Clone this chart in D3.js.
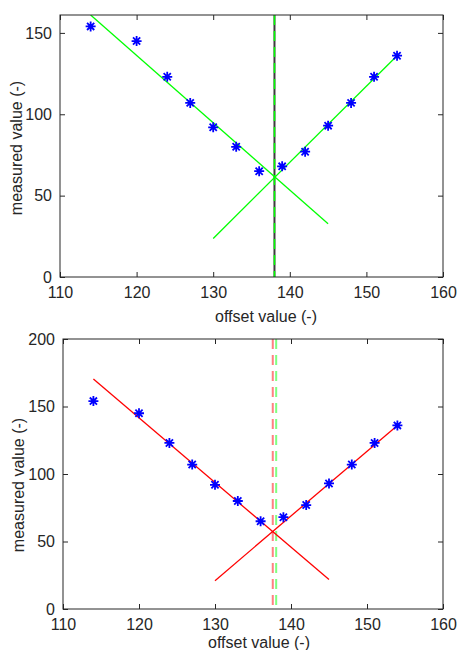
<!DOCTYPE html>
<html>
<head>
<meta charset="utf-8">
<script src="https://cdn.jsdelivr.net/npm/d3@7"></script>
<style>
  body { margin: 0; background: #fff; }
  svg text { font-family: "Liberation Sans", Arial, sans-serif; fill: #262626; }
</style>
</head>
<body>
<div id="chart"></div>
<script>
// measured points (same in both panels)
const offsets = [114, 120, 124, 127, 130, 133, 136, 139, 142, 145, 148, 151, 154];
const measured = [154, 145, 123, 107, 92, 80, 65, 68, 77, 93, 107, 123, 136];

const xTicks = [110, 120, 130, 140, 150, 160];

// top panel: green fit lines + vertical at 138
const topLeftFit = [[114, 161], [145, 32.7]];
const topRightFit = [[130, 23.7], [154, 136]];
const topCenter = 138;
const topYTicks = [0, 50, 100, 150];

// bottom panel: red fit lines, red estimate vs green reference
const botLeftFit = [[114, 170.4], [145, 21.8]];
const botRightFit = [[130, 21], [154, 136]];
const botCenterRed = 137.6;
const botCenterGreen = 138.05;
const botYTicks = [0, 50, 100, 150, 200];

const svg = d3.select('#chart').append('svg')
  .attr('width', 457)
  .attr('height', 650);

function panel(opts) {
  const x = d3.scaleLinear().domain([110, 160]).range([opts.left, opts.right]);
  const y = d3.scaleLinear().domain(opts.yDomain).range([opts.bottom, opts.top]);
  const g = svg.append('g');

  const clipId = 'clip' + opts.id;
  g.append('clipPath').attr('id', clipId)
    .append('rect')
    .attr('x', opts.left).attr('y', opts.top)
    .attr('width', opts.right - opts.left).attr('height', opts.bottom - opts.top);

  const plot = g.append('g').attr('clip-path', `url(#${clipId})`);
  const line = d3.line().x(d => x(d[0])).y(d => y(d[1]));

  // vertical markers
  opts.verticals.forEach(v => {
    plot.append('line')
      .attr('x1', x(v.x)).attr('x2', x(v.x))
      .attr('y1', opts.top).attr('y2', opts.bottom)
      .attr('stroke', v.color)
      .attr('stroke-width', v.width)
      .attr('stroke-dasharray', v.dash || null);
  });

  // fitted lines
  opts.fits.forEach(f => {
    plot.append('path')
      .attr('d', line(f))
      .attr('fill', 'none')
      .attr('stroke', opts.fitColor)
      .attr('stroke-width', 1.3);
  });

  // asterisk markers
  const r = 5, rd = r * 0.72;
  const star = `M${-r},0L${r},0M0,${-r}L0,${r}M${-rd},${-rd}L${rd},${rd}M${-rd},${rd}L${rd},${-rd}`;
  plot.selectAll('.pt')
    .data(offsets)
    .enter().append('path')
    .attr('class', 'pt')
    .attr('transform', (d, i) => `translate(${x(d)},${y(measured[i])})`)
    .attr('d', star)
    .attr('fill', 'none')
    .attr('stroke', '#0000ff')
    .attr('stroke-width', 1.8);

  // axes (MATLAB style box, inward ticks)
  const tickLen = 5;
  g.append('g')
    .attr('transform', `translate(0,${opts.bottom})`)
    .call(d3.axisBottom(x).tickValues(xTicks).tickSizeInner(-tickLen).tickSizeOuter(0).tickPadding(10))
    .call(a => a.select('.domain').remove());
  g.append('g')
    .attr('transform', `translate(0,${opts.top})`)
    .call(d3.axisTop(x).tickValues(xTicks).tickSizeInner(-tickLen).tickSizeOuter(0).tickFormat(''))
    .call(a => a.select('.domain').remove());
  g.append('g')
    .attr('transform', `translate(${opts.left},0)`)
    .call(d3.axisLeft(y).tickValues(opts.yTicks).tickSizeInner(-tickLen).tickSizeOuter(0).tickPadding(8))
    .call(a => a.select('.domain').remove());
  g.append('g')
    .attr('transform', `translate(${opts.right},0)`)
    .call(d3.axisRight(y).tickValues(opts.yTicks).tickSizeInner(-tickLen).tickSizeOuter(0).tickFormat(''))
    .call(a => a.select('.domain').remove());

  g.selectAll('.tick line').attr('stroke', '#262626');
  g.selectAll('.tick text').style('font-size', '16px').attr('fill', '#262626');

  g.append('rect')
    .attr('x', opts.left).attr('y', opts.top)
    .attr('width', opts.right - opts.left).attr('height', opts.bottom - opts.top)
    .attr('fill', 'none')
    .attr('stroke', '#262626')
    .attr('stroke-width', 1);

  g.append('text')
    .attr('x', opts.xLabelX).attr('y', opts.xLabelY)
    .attr('text-anchor', 'middle')
    .style('font-size', '16px')
    .text('offset value (-)');

  g.append('text')
    .attr('transform', `translate(${opts.yLabelX},${opts.yLabelY}) rotate(-90)`)
    .attr('text-anchor', 'middle')
    .style('font-size', '16px')
    .text('measured value (-)');
}

panel({
  id: 'top', left: 60, right: 443, top: 15, bottom: 277,
  yDomain: [0, 161], yTicks: topYTicks,
  fits: [topLeftFit, topRightFit], fitColor: '#00ff00',
  verticals: [
    { x: topCenter, color: '#3c3c3c', width: 2 },
    { x: topCenter, color: '#00ff00', width: 1.5, dash: '10,6' }
  ],
  xLabelX: 266, xLabelY: 322, yLabelX: 22, yLabelY: 148
});

panel({
  id: 'bot', left: 63, right: 443, top: 339, bottom: 609,
  yDomain: [0, 200], yTicks: botYTicks,
  fits: [botLeftFit, botRightFit], fitColor: '#ff0000',
  verticals: [
    { x: botCenterRed, color: '#ff8080', width: 2, dash: '10,6' },
    { x: botCenterGreen, color: '#80ff80', width: 2, dash: '10,6' }
  ],
  xLabelX: 259, xLabelY: 648, yLabelX: 24, yLabelY: 485
});
</script>
</body>
</html>
